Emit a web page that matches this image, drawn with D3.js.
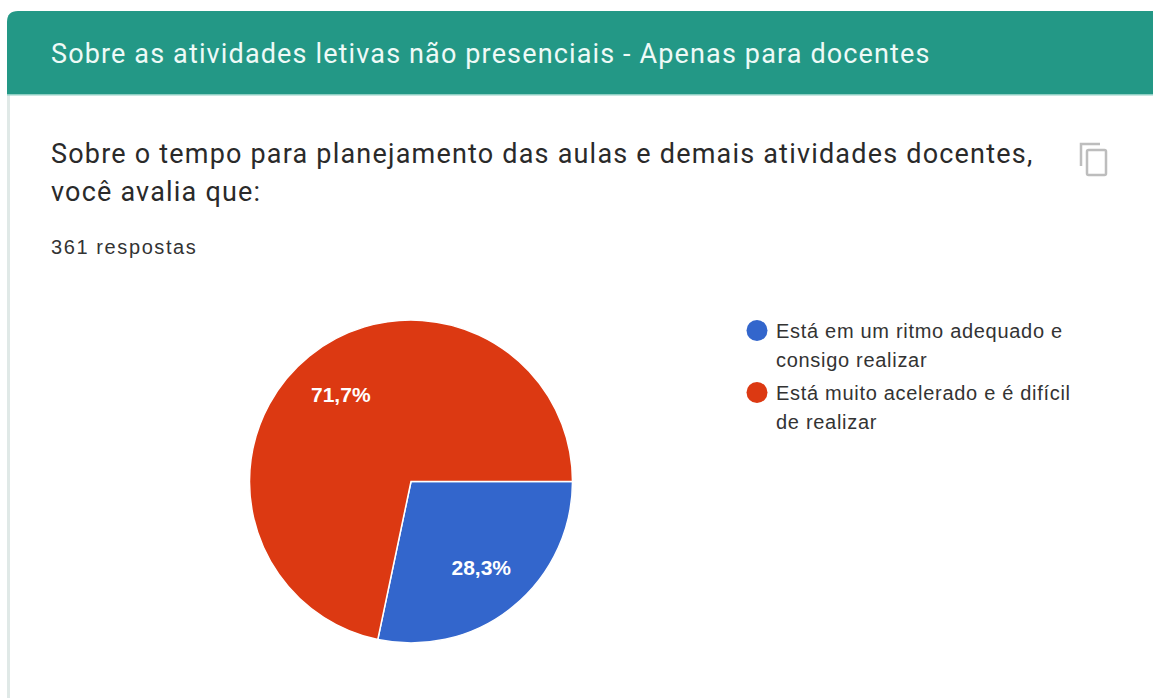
<!DOCTYPE html>
<html>
<head>
<meta charset="utf-8">
<script src="https://cdn.jsdelivr.net/npm/d3@7"></script>
<style>
  html, body { margin: 0; padding: 0; background: #fff; }
  svg { display: block; }
  text { font-family: Roboto, "Liberation Sans", sans-serif; }
  .legend-text, .slice-label, .responses { font-family: "Liberation Sans", Arial, sans-serif; }
</style>
</head>
<body>
<div id="chart"></div>
<script>
var sectionTitle = "Sobre as atividades letivas não presenciais - Apenas para docentes";
var questionLines = ["Sobre o tempo para planejamento das aulas e demais atividades docentes,", "você avalia que:"];
var responses = "361 respostas";

var categories = ["Está em um ritmo adequado e consigo realizar", "Está muito acelerado e é difícil de realizar"];
var legendLines = [["Está em um ritmo adequado e", "consigo realizar"], ["Está muito acelerado e é difícil", "de realizar"]];
var values = [28.3, 71.7];
var sliceLabels = ["28,3%", "71,7%"];
var colors = ["#3366cc", "#dc3912"];

var svg = d3.select("#chart").append("svg")
    .attr("width", 1153)
    .attr("height", 698);

//card border and header
svg.append("rect")
    .attr("x", 7).attr("y", 90)
    .attr("width", 3).attr("height", 608)
    .attr("fill", "#e0e9e7");

svg.append("path")
    .attr("d", "M7,95 V22 Q7,11 18,11 H1153 V95 Z")
    .attr("fill", "#239886");

svg.append("rect")
    .attr("x", 7).attr("y", 94)
    .attr("width", 1146).attr("height", 1.5)
    .attr("fill", "#8fd0c4");

svg.append("text")
    .attr("x", 51).attr("y", 63)
    .attr("font-size", 27)
    .attr("letter-spacing", 1.14)
    .attr("fill", "#eefaf7")
    .text(sectionTitle);

svg.selectAll(".question")
    .data(questionLines)
    .enter()
    .append("text")
    .classed("question", true)
    .attr("x", 51)
    .attr("y", function(d, i){ return 163 + i * 38; })
    .attr("font-size", 27)
    .attr("letter-spacing", 1.2)
    .attr("fill", "#2a2a2a")
    .text(function(d){ return d; });

svg.append("text")
    .classed("responses", true)
    .attr("x", 51).attr("y", 254)
    .attr("font-size", 20)
    .attr("letter-spacing", 1.6)
    .attr("fill", "#333")
    .text(responses);

//copy icon
var icon = svg.append("g")
    .attr("fill", "none")
    .attr("stroke", "#bdbdbd")
    .attr("stroke-width", 2.5);
icon.append("path").attr("d", "M1081,166 V144 H1100");
icon.append("rect")
    .attr("x", 1087).attr("y", 150)
    .attr("width", 19).attr("height", 25)
    .attr("rx", 1.5);

//pie, blue starts at 3 o'clock and runs clockwise
var cx = 411, cy = 481.5, radius = 161.5;

var pie = d3.pie()
    .sort(null)
    .startAngle(Math.PI / 2)
    .endAngle(Math.PI / 2 + 2 * Math.PI);

var arc = d3.arc().innerRadius(0).outerRadius(radius);
var labelArc = d3.arc().innerRadius(radius * 0.69).outerRadius(radius * 0.69);

var pieGroup = svg.append("g")
    .attr("transform", "translate(" + cx + "," + cy + ")");

var slices = pieGroup.selectAll(".slice")
    .data(pie(values))
    .enter()
    .append("g")
    .classed("slice", true);

slices.append("path")
    .attr("d", arc)
    .attr("fill", function(d, i){ return colors[i]; })
    .attr("stroke", "#fff")
    .attr("stroke-width", 1.5);

slices.append("text")
    .classed("slice-label", true)
    .attr("transform", function(d){ return "translate(" + labelArc.centroid(d) + ")"; })
    .attr("text-anchor", "middle")
    .attr("dy", "0.35em")
    .attr("font-size", 21)
    .attr("font-weight", 700)
    .attr("fill", "#fff")
    .text(function(d, i){ return sliceLabels[i]; });

//legend
var legend = svg.selectAll(".legend")
    .data(categories)
    .enter()
    .append("g")
    .classed("legend", true)
    .attr("transform", function(d, i){ return "translate(757," + (330.5 + i * 62) + ")"; });

legend.append("circle")
    .attr("r", 10.5)
    .attr("fill", function(d, i){ return colors[i]; });

legend.each(function(d, i){
    d3.select(this).selectAll("text")
        .data(legendLines[i])
        .enter()
        .append("text")
        .classed("legend-text", true)
        .attr("x", 19)
        .attr("y", function(line, j){ return 7.5 + j * 29; })
        .attr("font-size", 20)
        .attr("letter-spacing", 0.7)
        .attr("fill", "#333")
        .text(function(line){ return line; });
});
</script>
</body>
</html>
